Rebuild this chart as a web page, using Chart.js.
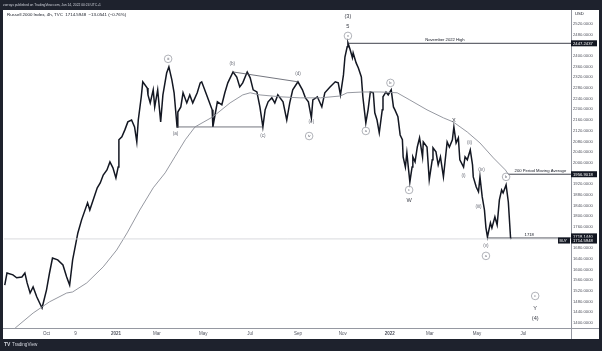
<!DOCTYPE html>
<html lang="en">
<head>
<meta charset="UTF-8">
<title>Russell 2000 Index, 4h</title>
<script src="https://cdn.jsdelivr.net/npm/chart.js"></script>
<style>
  html, body { margin: 0; padding: 0; background: #1e222d; }
  canvas { display: block; }
</style>
</head>
<body>
<canvas id="rutChart" width="602" height="351"></canvas>
<script>
// x = days counted from 2021-01-01 (negative = 2020), y = index level
const priceDays = [-149, -146, -138, -133, -126, -122, -119, -115, -111, -106, -99, -93, -89, -85, -78, -71, -66, -62, -58, -51,
  -46, -38, -35, -25, -21, -17, -12, -8, -4, 0, 3, 4, 8, 12, 16, 21, 25, 28, 30, 34,
  36, 42, 43, 46, 50, 52, 56, 60, 63, 68, 71, 75, 78, 82, 83, 87, 90, 95, 99, 103,
  109, 113, 115, 119, 123, 129, 130, 136, 142, 146, 150, 157, 162, 166, 170, 176, 180, 184, 189, 193,
  197, 200, 204, 209, 213, 217, 224, 229, 233, 237, 244, 250, 254, 258, 262, 264, 270, 276, 280, 287,
  294, 298, 301, 305, 307, 310, 311, 314, 317, 318, 322, 325, 329, 331, 333, 335, 338, 341, 345, 347,
  350, 353, 357, 358, 362, 365, 369, 372, 374, 378, 381, 384, 385, 388, 390, 392, 394, 397, 398, 401,
  404, 407, 411, 412, 417, 420, 424, 425, 429, 432, 435, 439, 441, 444, 447, 451, 453, 456, 459, 461,
  466, 468, 471, 475, 478, 479, 483, 486, 488, 491, 494, 496, 498, 502, 504, 508, 511, 514, 517, 519,
  523, 526, 529, 530];
const priceVals = [1542, 1587, 1580, 1569, 1572, 1587, 1550, 1512, 1535, 1497, 1456, 1524, 1587, 1643, 1636, 1617, 1572, 1542, 1636, 1737,
  1786, 1850, 1823, 1906, 1924, 1954, 1973, 2003, 1981, 1943, 1984, 2086, 2097, 2123, 2153, 2160, 2134, 2078, 2160, 2247,
  2303, 2280, 2254, 2224, 2273, 2209, 2273, 2153, 2254, 2336, 2359, 2310, 2262, 2134, 2190, 2209, 2262, 2224, 2254, 2224,
  2262, 2299, 2303, 2273, 2243, 2198, 2134, 2228, 2217, 2262, 2299, 2340, 2321, 2284, 2299, 2340, 2318, 2273, 2265, 2209,
  2134, 2198, 2228, 2243, 2224, 2254, 2228, 2160, 2224, 2273, 2303, 2273, 2243, 2228, 2168, 2235, 2247, 2209, 2262, 2284,
  2303, 2299, 2254, 2329, 2396, 2434, 2449, 2423, 2393, 2411, 2374, 2355, 2321, 2247, 2198, 2149, 2198, 2265, 2262, 2187,
  2160, 2112, 2198, 2247, 2265, 2254, 2273, 2209, 2198, 2172, 2104, 2086, 2022, 1984, 2037, 1981, 1928, 1984, 2022, 2003,
  2059, 2093, 2022, 2078, 2059, 1936, 2011, 2056, 2041, 1992, 2022, 1947, 1999, 2078, 2059, 2086, 2134, 2074, 2093, 2011,
  1984, 2022, 2011, 2048, 1992, 1947, 1909, 1891, 1947, 1872, 1823, 1756, 1722, 1775, 1756, 1797, 1767, 1861, 1898, 1887,
  1917, 1853, 1718, 1714.5948];

// 200 period moving average
const maDays = [-135, -111, -89, -66, -58, -39, -17, 1, 15, 32, 50, 66, 79, 93, 106, 130, 153, 170, 180, 193,
  220, 247, 274, 301, 310, 331, 354, 377, 394, 417, 439, 452, 471, 488, 506, 522, 526];
const maVals = [1381, 1437, 1479, 1512, 1516, 1550, 1610, 1673, 1737, 1823, 1906, 1962, 2022, 2086, 2134, 2172, 2224, 2254, 2262, 2254,
  2247, 2243, 2243, 2250, 2262, 2265, 2265, 2262, 2235, 2198, 2168, 2153, 2115, 2074, 2018, 1973, 1956.9];

const xTickDays = [-93, -54, 0, 55, 117, 180, 244, 304, 367, 421, 484, 546];
const xTickLabels = ['Oct', '9', '2021', 'Mar', 'May', 'Jul', 'Sep', 'Nov', '2022', 'Mar', 'May', 'Jul'];
const yTickVals = [1400, 1440, 1480, 1520, 1560, 1600, 1640, 1680, 1720, 1760, 1800, 1840, 1880, 1920, 1960,
  2000, 2040, 2080, 2120, 2160, 2200, 2240, 2280, 2320, 2360, 2400, 2440, 2480, 2520];

const lastPrice = 1714.5948;
const bidPrice = 1718.1440;
const novHigh = 2447.2437;
const maLast = 1956.9018;
const supportLevel = 1718;

// trend lines drawn on the chart: [startDay, startVal, endDay, endVal]
const lowerTriangle = [82, 2134, 197, 2134];
const upperTriangle = [157, 2340, 244, 2303];

// wave count labels: day, level, text, circled?
const waveLabels = [
  [311, 2546, '(3)', false], [311, 2509, '5', false], [311, 2475, 'v', true],
  [70, 2389, 'iii', true], [156, 2370, '(b)', false], [244, 2333, '(d)', false],
  [80, 2108, '(a)', false], [197, 2100, '(c)', false], [262, 2153, '(e)', false],
  [259, 2100, 'iv', true], [368, 2299, 'b', true], [335, 2119, 'a', true],
  [453, 2160, 'X', false], [474, 2074, '(ii)', false], [466, 1951, '(i)', false],
  [490, 1973, '(iv)', false], [486, 1835, '(iii)', false], [523, 1947, 'b', true],
  [393, 1898, 'c', true], [393, 1857, 'W', false], [496, 1688, '(v)', false],
  [496, 1651, 'a', true], [562, 1501, 'c', true], [562, 1456, 'Y', false], [562, 1415, '(4)', false]
];

const FONT = '"Liberation Sans", Arial, sans-serif';
const pts = (xs, ys) => xs.map((x, i) => ({ x: x, y: ys[i] }));
const seg = (s) => [{ x: s[0], y: s[1] }, { x: s[2], y: s[3] }];

const tvFrame = {
  id: 'tvFrame',
  beforeDraw(chart) {
    const c = chart.ctx;
    c.save();
    c.fillStyle = '#1e222d';
    c.fillRect(0, 0, 602, 351);
    c.fillStyle = '#ffffff';
    c.fillRect(3, 10, 596, 329);
    c.restore();
  },
  afterDraw(chart) {
    const c = chart.ctx;
    const xs = chart.scales.x, ys = chart.scales.y;
    const ca = chart.chartArea;
    c.save();

    // axis borders
    c.strokeStyle = '#9598a1';
    c.lineWidth = 1;
    c.beginPath();
    c.moveTo(3, Math.round(ca.bottom) + 0.5);
    c.lineTo(599, Math.round(ca.bottom) + 0.5);
    c.moveTo(Math.round(ca.right) + 0.5, 10);
    c.lineTo(Math.round(ca.right) + 0.5, 339);
    c.stroke();

    // header / footer
    c.textBaseline = 'middle';
    c.fillStyle = '#d1d4dc';
    c.font = '3.3px ' + FONT;
    c.fillText('zorrays published on TradingView.com, Jun 14, 2022 00:24 UTC+1', 3, 5);
    c.font = 'bold 5px ' + FONT;
    c.fillText('TV', 4, 345);
    c.font = '4.6px ' + FONT;
    c.fillText('TradingView', 12, 345);

    c.fillStyle = '#131722';
    c.font = '4.4px ' + FONT;
    c.fillText('Russell 2000 Index, 4h, TVC  1714.5948  \u221213.0541 (\u22120.76%)', 7, 15);
    c.font = '4.2px ' + FONT;
    c.fillText('USD', 575, 14);

    // level texts
    c.textAlign = 'center';
    c.fillText('November 2022 High', xs.getPixelForValue(441), ys.getPixelForValue(novHigh) - 3);
    c.fillText('200 Period Moving Average', xs.getPixelForValue(569), ys.getPixelForValue(maLast) - 3);
    c.fillText('1718', xs.getPixelForValue(554), ys.getPixelForValue(supportLevel) - 3.5);

    // wave labels
    waveLabels.forEach(([d, v, t, circled]) => {
      const px = xs.getPixelForValue(d), py = ys.getPixelForValue(v);
      if (circled) {
        c.strokeStyle = '#8f929b';
        c.lineWidth = 0.7;
        c.beginPath();
        c.arc(px, py, 3.8, 0, Math.PI * 2);
        c.stroke();
        c.fillStyle = '#6a6d78';
        c.font = '4px ' + FONT;
      } else if (/^[WXY5]$|^\(\d\)$/.test(t)) {
        c.fillStyle = '#3d404a';
        c.font = '5.6px ' + FONT;
      } else {
        c.fillStyle = '#6a6d78';
        c.font = '4.6px ' + FONT;
      }
      c.fillText(t, px, py);
    });

    // price boxes on the right axis
    c.textAlign = 'left';
    c.font = '4.2px ' + FONT;
    [[novHigh, '2447.2437', 0], [maLast, '1956.9018', 0], [bidPrice, '1718.1440', -1], [lastPrice, '1714.5948', 1]].forEach(([v, t, off]) => {
      const py = ys.getPixelForValue(v) + off * 1.6;
      c.fillStyle = '#131722';
      c.fillRect(571, py - 3, 26, 6);
      c.fillStyle = '#ffffff';
      c.fillText(t, 573, py + 0.2);
    });
    const by = ys.getPixelForValue(lastPrice) + 1.6;
    c.fillStyle = '#131722';
    c.fillRect(558, by - 3, 12, 6);
    c.fillStyle = '#ffffff';
    c.font = '3.6px ' + FONT;
    c.fillText('BUY', 559.5, by + 0.2);

    c.restore();
  }
};

new Chart(document.getElementById('rutChart'), {
  type: 'line',
  data: {
    datasets: [
      { data: [{ x: -150, y: lastPrice }, { x: 610, y: lastPrice }], borderColor: '#cfd1d6', borderWidth: 0.8 },
      { data: pts(maDays, maVals), borderColor: '#8a8d96', borderWidth: 0.9 },
      { data: seg([311, novHigh, 610, novHigh]), borderColor: '#2a2e39', borderWidth: 0.9 },
      { data: seg([526, maLast, 610, maLast]), borderColor: '#2a2e39', borderWidth: 0.9 },
      { data: seg([498, supportLevel, 610, supportLevel]), borderColor: '#2a2e39', borderWidth: 0.9 },
      { data: seg(lowerTriangle), borderColor: '#50535e', borderWidth: 0.8 },
      { data: seg(upperTriangle), borderColor: '#50535e', borderWidth: 0.8 },
      { data: pts(priceDays, priceVals), borderColor: '#131722', borderWidth: 1.5 }
    ]
  },
  options: {
    responsive: false,
    animation: false,
    devicePixelRatio: 1,
    layout: { padding: { left: 4, top: 10, right: 3, bottom: 13 } },
    elements: { point: { radius: 0 }, line: { tension: 0, fill: false } },
    plugins: { legend: { display: false }, tooltip: { enabled: false } },
    scales: {
      x: {
        type: 'linear',
        min: -150,
        max: 610,
        afterFit: (s) => { s.height = 10; },
        afterBuildTicks: (s) => { s.ticks = xTickDays.map(v => ({ value: v })); },
        grid: { display: false, drawTicks: false },
        border: { display: false },
        ticks: {
          padding: 3,
          maxRotation: 0,
          autoSkip: false,
          color: '#50535e',
          font: (ctx) => ({ size: 4.5, family: FONT, weight: /^20/.test(xTickLabels[ctx.index] || '') ? 'bold' : 'normal' }),
          callback: (v, i) => xTickLabels[i]
        }
      },
      y: {
        position: 'right',
        min: 1381,
        max: 2572,
        afterFit: (s) => { s.width = 28; },
        afterBuildTicks: (s) => { s.ticks = yTickVals.map(v => ({ value: v })); },
        grid: { display: false, drawTicks: false },
        border: { display: false },
        ticks: {
          padding: 2,
          autoSkip: false,
          color: '#50535e',
          font: { size: 4.2, family: FONT },
          callback: (v) => Number(v).toFixed(4)
        }
      }
    }
  },
  plugins: [tvFrame]
});
</script>
</body>
</html>
